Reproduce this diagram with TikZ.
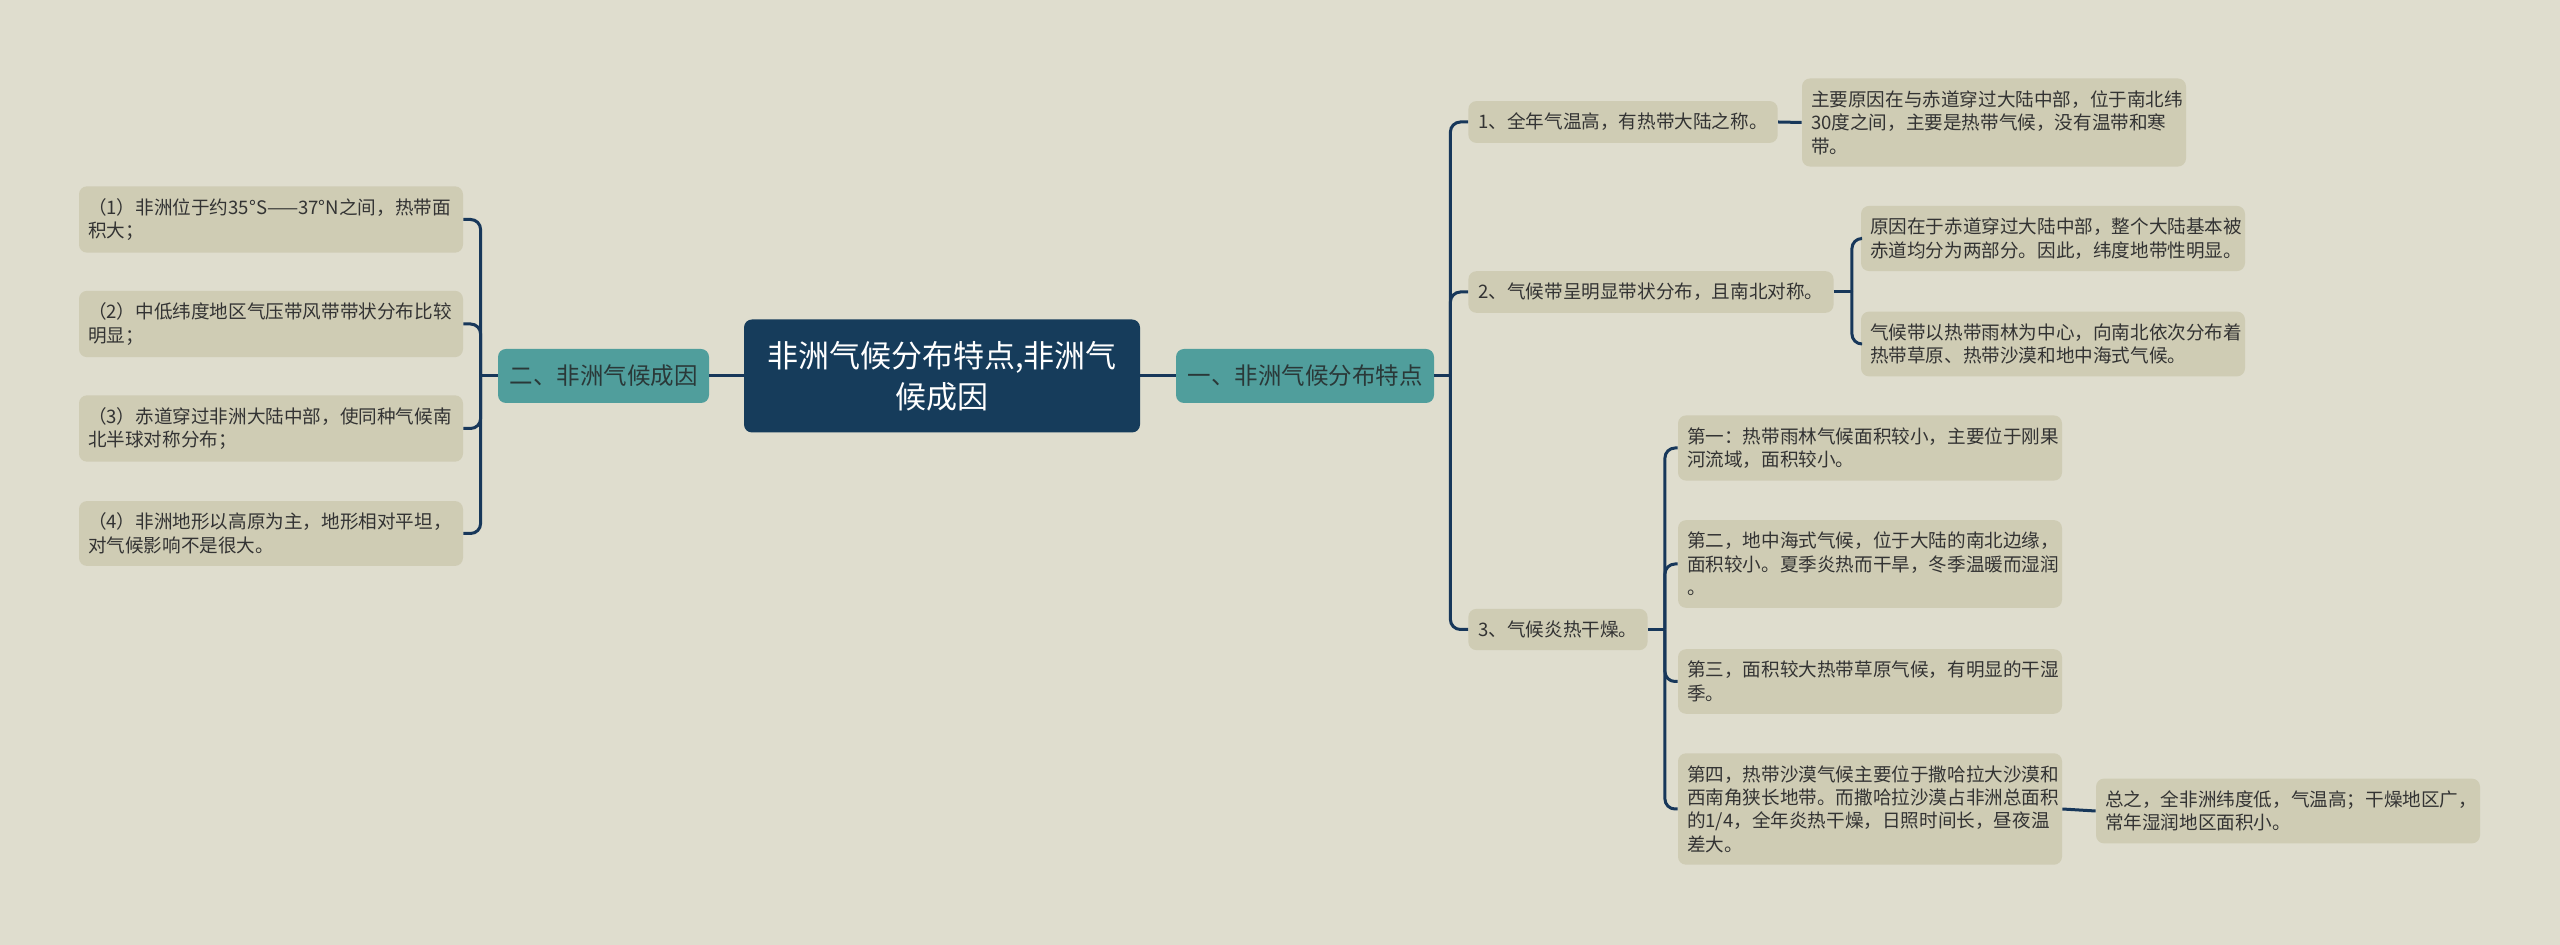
\documentclass[tikz,border=0pt]{standalone}
\usepackage{fontspec}
\setmainfont{Noto Sans CJK SC}
\usepackage{xcolor}
\usepackage{tikz}
\usetikzlibrary{positioning,calc}

\definecolor{bgpaper}{HTML}{DFDDCE}
\definecolor{leaffill}{HTML}{CFCCB4}
\definecolor{leaftext}{HTML}{333333}
\definecolor{branchfill}{HTML}{509E9C}
\definecolor{branchtext}{HTML}{2A3838}
\definecolor{topicfill}{HTML}{163C5B}
\definecolor{linkcol}{HTML}{17375A}

\begin{document}
\begin{tikzpicture}[x=0.5pt, y=-0.5pt,
  box/.style={rounded corners=4pt, inner xsep=4.5pt, inner ysep=6pt, text=leaftext,
    font=\fontsize{9.3pt}{11.7pt}\selectfont},
  leaf/.style={box, fill=leaffill, text width=183pt, align=left},
  item/.style={box, fill=leaffill, inner xsep=5pt},
  branch/.style={rounded corners=4pt, fill=branchfill, text=branchtext, minimum height=27pt,
    inner xsep=0pt, font=\fontsize{11.75pt}{14pt}\selectfont},
  topic/.style={rounded corners=4pt, fill=topicfill, text=white, align=center,
    minimum width=198pt, minimum height=56.5pt, font=\fontsize{15.5pt}{20.5pt}\selectfont},
  link/.style={draw=linkcol, line width=1.5pt, rounded corners=5pt}
]
\fill[bgpaper] (0,0) rectangle (2560,945);

% centre and main branches
\node[topic] (root) at (942,376) {非洲气候分布特点,非洲气\\候成因};
\node[branch, minimum width=105.5pt] (cause) at (603.5,376) {二、非洲气候成因};
\node[branch, minimum width=129pt] (feature) at (1305,376) {一、非洲气候分布特点};

% left side: causes
\node[leaf] (c1) at (271,219.5) {（1）非洲位于约35°S——37°N之间，热带面\\积大；};
\node[leaf] (c2) at (271,324) {（2）中低纬度地区气压带风带带状分布比较\\明显；};
\node[leaf] (c3) at (271,428.5) {（3）赤道穿过非洲大陆中部，使同种气候南\\北半球对称分布；};
\node[leaf] (c4) at (271,533.5) {（4）非洲地形以高原为主，地形相对平坦，\\对气候影响不是很大。};

% right side: features
\node[item, anchor=west] (f1) at (1468,122) {1、全年气温高，有热带大陆之称。};
\node[item, anchor=west] (f2) at (1468,292) {2、气候带呈明显带状分布，且南北对称。};
\node[item, anchor=west] (f3) at (1468,629.5) {3、气候炎热干燥。};

\node[leaf] (f1a) at (1994,122.5) {主要原因在与赤道穿过大陆中部，位于南北纬\\30度之间，主要是热带气候，没有温带和寒\\带。};
\node[leaf] (f2a) at (2053,238.5) {原因在于赤道穿过大陆中部，整个大陆基本被\\赤道均分为两部分。因此，纬度地带性明显。};
\node[leaf] (f2b) at (2053,344) {气候带以热带雨林为中心，向南北依次分布着\\热带草原、热带沙漠和地中海式气候。};
\node[leaf] (f3a) at (1870,448) {第一：热带雨林气候面积较小，主要位于刚果\\河流域，面积较小。};
\node[leaf] (f3b) at (1870,564) {第二，地中海式气候，位于大陆的南北边缘，\\面积较小。夏季炎热而干旱，冬季温暖而湿润\\。};
\node[leaf] (f3c) at (1870,681.5) {第三，面积较大热带草原气候，有明显的干湿\\季。};
\node[leaf] (f3d) at (1870,809) {第四，热带沙漠气候主要位于撒哈拉大沙漠和\\西南角狭长地带。而撒哈拉沙漠占非洲总面积\\的1/4，全年炎热干燥，日照时间长，昼夜温\\差大。};
\node[leaf] (f3e) at (2288,811) {总之，全非洲纬度低，气温高；干燥地区广，\\常年湿润地区面积小。};

% connectors
\draw[link] (root.west) -- (cause.east);
\draw[link] (root.east) -- (feature.west);

\draw[link] (cause.west) -- ++(-17,0) coordinate (jc);
\draw[link] (jc) |- (c1.east);
\draw[link] (jc) |- (c2.east);
\draw[link] (jc) |- (c3.east);
\draw[link] (jc) |- (c4.east);

\draw[link] (feature.east) -- ++(16,0) coordinate (jf);
\draw[link] (jf) |- (f1.west);
\draw[link] (jf) |- (f2.west);
\draw[link] (jf) |- (f3.west);

\draw[link] (f1.east) -- (f1a.west);

\draw[link] (f2.east) -- ++(18,0) coordinate (j2);
\draw[link] (j2) |- (f2a.west);
\draw[link] (j2) |- (f2b.west);

\draw[link] (f3.east) -- ++(17,0) coordinate (j3);
\draw[link] (j3) |- (f3a.west);
\draw[link] (j3) |- (f3b.west);
\draw[link] (j3) |- (f3c.west);
\draw[link] (j3) |- (f3d.west);

\draw[link] (f3d.east) -- (f3e.west);
\end{tikzpicture}
\end{document}
